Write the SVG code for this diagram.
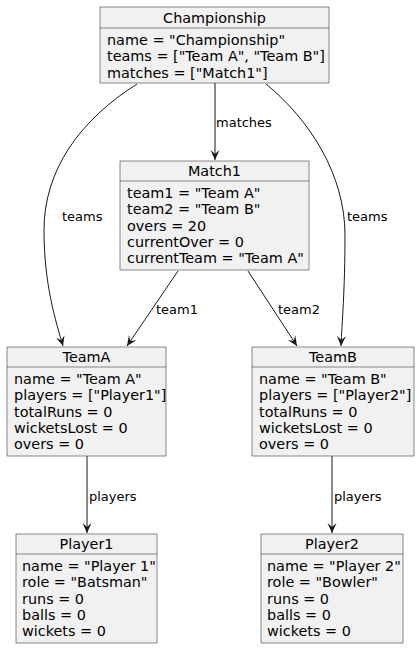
<svg xmlns="http://www.w3.org/2000/svg" width="417" height="650" viewBox="0 0 417 650">
<defs>
<style>
.box{fill:#F1F1F1;stroke:#181818;stroke-width:0.5}
.sep{stroke:#181818;stroke-width:0.5}
.t{font-family:"DejaVu Sans",sans-serif;font-size:14.4px;fill:#000}
.h{text-anchor:middle}
.e{fill:none;stroke:#181818;stroke-width:1}
.l{font-family:"DejaVu Sans",sans-serif;font-size:13px;fill:#000}
</style>
<marker id="arr" viewBox="0 0 12 10" refX="10" refY="5" markerWidth="12" markerHeight="10" markerUnits="userSpaceOnUse" orient="auto">
<polygon points="0,0.5 10,5 0,9.5 4,5" fill="#181818"/>
</marker>
</defs>
<rect width="417" height="650" fill="#FFFFFF"/>
<g id="connectors">
<path class="e" d="M215,83 L215,160" marker-end="url(#arr)"/>
<text class="l" x="216" y="127">matches</text>
<path class="e" d="M137,84 C 80,120 44,170 44,230 C 44,285 56,322 63,346" marker-end="url(#arr)"/>
<text class="l" x="62" y="221">teams</text>
<path class="e" d="M266,84 C 310,120 345,175 345,235 C 345,290 342,322 341,346" marker-end="url(#arr)"/>
<text class="l" x="347" y="221">teams</text>
<path class="e" d="M178,271 L127,346" marker-end="url(#arr)"/>
<text class="l" x="156" y="314">team1</text>
<path class="e" d="M248,271 L297,346" marker-end="url(#arr)"/>
<text class="l" x="278" y="314">team2</text>
<path class="e" d="M87,456 L87,533" marker-end="url(#arr)"/>
<text class="l" x="89" y="501">players</text>
<path class="e" d="M332,456 L332,533" marker-end="url(#arr)"/>
<text class="l" x="334" y="501">players</text>
</g>
<g id="Championship">
<rect class="box" x="100" y="7" width="229" height="76"/>
<line class="sep" x1="100" y1="28" x2="329" y2="28"/>
<text class="t h" x="214.5" y="23">Championship</text>
<text class="t" x="107" y="45">name = "Championship"</text>
<text class="t" x="107" y="61.3">teams = ["Team A", "Team B"]</text>
<text class="t" x="107" y="77.6">matches = ["Match1"]</text>
</g>
<g id="Match1">
<rect class="box" x="120" y="161" width="189" height="109"/>
<line class="sep" x1="120" y1="181" x2="309" y2="181"/>
<text class="t h" x="214.5" y="176">Match1</text>
<text class="t" x="127" y="198">team1 = "Team A"</text>
<text class="t" x="127" y="214.3">team2 = "Team B"</text>
<text class="t" x="127" y="230.6">overs = 20</text>
<text class="t" x="127" y="246.9">currentOver = 0</text>
<text class="t" x="127" y="263.2">currentTeam = "Team A"</text>
</g>
<g id="TeamA">
<rect class="box" x="7" y="347" width="159" height="109"/>
<line class="sep" x1="7" y1="367" x2="166" y2="367"/>
<text class="t h" x="86.5" y="362">TeamA</text>
<text class="t" x="14" y="384">name = "Team A"</text>
<text class="t" x="14" y="400.3">players = ["Player1"]</text>
<text class="t" x="14" y="416.6">totalRuns = 0</text>
<text class="t" x="14" y="432.9">wicketsLost = 0</text>
<text class="t" x="14" y="449.2">overs = 0</text>
</g>
<g id="TeamB">
<rect class="box" x="252" y="347" width="162" height="109"/>
<line class="sep" x1="252" y1="367" x2="414" y2="367"/>
<text class="t h" x="333" y="362">TeamB</text>
<text class="t" x="259" y="384">name = "Team B"</text>
<text class="t" x="259" y="400.3">players = ["Player2"]</text>
<text class="t" x="259" y="416.6">totalRuns = 0</text>
<text class="t" x="259" y="432.9">wicketsLost = 0</text>
<text class="t" x="259" y="449.2">overs = 0</text>
</g>
<g id="Player1">
<rect class="box" x="16" y="534" width="141" height="109"/>
<line class="sep" x1="16" y1="554" x2="157" y2="554"/>
<text class="t h" x="86.5" y="549">Player1</text>
<text class="t" x="22" y="571">name = "Player 1"</text>
<text class="t" x="22" y="587.3">role = "Batsman"</text>
<text class="t" x="22" y="603.6">runs = 0</text>
<text class="t" x="22" y="619.9">balls = 0</text>
<text class="t" x="22" y="636.2">wickets = 0</text>
</g>
<g id="Player2">
<rect class="box" x="261" y="534" width="142" height="109"/>
<line class="sep" x1="261" y1="554" x2="403" y2="554"/>
<text class="t h" x="332" y="549">Player2</text>
<text class="t" x="267" y="571">name = "Player 2"</text>
<text class="t" x="267" y="587.3">role = "Bowler"</text>
<text class="t" x="267" y="603.6">runs = 0</text>
<text class="t" x="267" y="619.9">balls = 0</text>
<text class="t" x="267" y="636.2">wickets = 0</text>
</g>
</svg>
